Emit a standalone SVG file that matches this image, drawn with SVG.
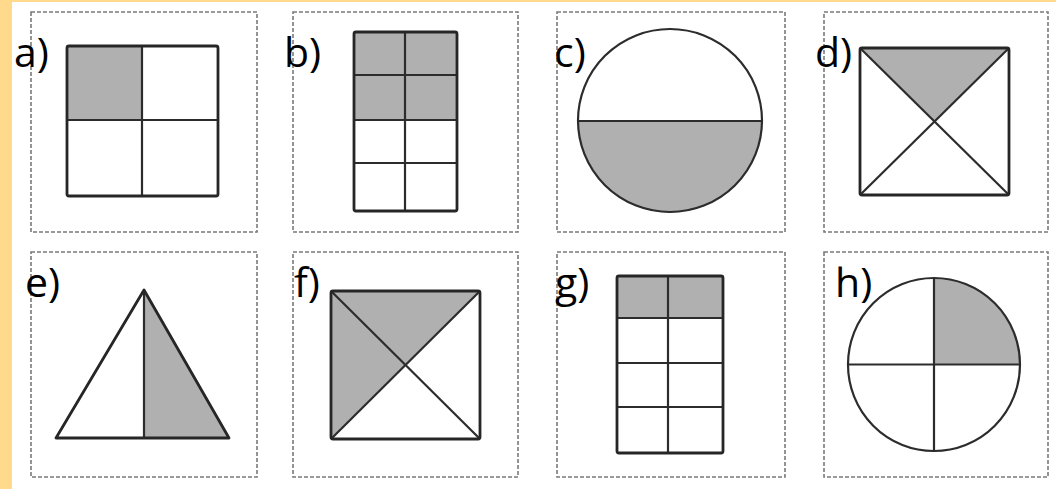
<svg xmlns="http://www.w3.org/2000/svg" width="1056" height="489" viewBox="0 0 1056 489">
<style>
.panel{fill:#fff;stroke:#7a7a7a;stroke-width:1.6;stroke-dasharray:4 2}
.sh{fill:#b0b0b0}
.out{fill:none;stroke:#262626;stroke-width:2.8;stroke-linejoin:round}
.in{fill:none;stroke:#2c2c2c;stroke-width:2.2}
.lbl{font-family:"Open Sans","Noto Sans",sans-serif;font-size:41px;fill:#000}
</style>
<rect x="0" y="0" width="1056" height="489" fill="#fff"/>
<rect x="0" y="0" width="1056" height="2" fill="#ffd98c"/>
<rect x="0" y="0" width="12" height="489" fill="#ffd98c"/>

<g id="panel-a">
<rect class="panel" x="31" y="12" width="226" height="220"/>
<rect class="sh" x="67" y="46" width="75" height="74"/>
<line class="in" x1="142" y1="46" x2="142" y2="196"/>
<line class="in" x1="67" y1="120" x2="218" y2="120"/>
<rect class="out" x="67" y="46" width="151" height="150" rx="2"/>
<text class="lbl" x="14" y="67">a)</text>
</g>

<g id="panel-b">
<rect class="panel" x="293" y="12" width="225" height="220"/>
<rect class="sh" x="354" y="32" width="103" height="88"/>
<line class="in" x1="405" y1="32" x2="405" y2="211"/>
<line class="in" x1="354" y1="75" x2="457" y2="75"/>
<line class="in" x1="354" y1="120" x2="457" y2="120"/>
<line class="in" x1="354" y1="163" x2="457" y2="163"/>
<rect class="out" x="354" y="32" width="103" height="179" rx="2"/>
<text class="lbl" x="284" y="67">b)</text>
</g>

<g id="panel-c">
<rect class="panel" x="557" y="12" width="228" height="220"/>
<path class="sh" d="M578 121 A92 91.5 0 0 0 762 121 Z"/>
<line class="in" x1="578" y1="121" x2="762" y2="121"/>
<ellipse class="in" cx="670" cy="120.5" rx="92" ry="91.5"/>
<text class="lbl" x="554" y="67">c)</text>
</g>

<g id="panel-d">
<rect class="panel" x="824" y="12" width="224" height="220"/>
<polygon class="sh" points="860,48 1009,48 934.5,121.5"/>
<line class="in" x1="860" y1="48" x2="1009" y2="195"/>
<line class="in" x1="1009" y1="48" x2="860" y2="195"/>
<rect class="out" x="860" y="48" width="149" height="147" rx="2"/>
<text class="lbl" x="815" y="67">d)</text>
</g>

<g id="panel-e">
<rect class="panel" x="31" y="252" width="226" height="225"/>
<polygon class="sh" points="144,290 229,438 144,438"/>
<line class="in" x1="144" y1="290" x2="144" y2="438"/>
<polygon class="out" points="144,290 229,438 56,438"/>
<text class="lbl" x="25" y="297">e)</text>
</g>

<g id="panel-f">
<rect class="panel" x="293" y="252" width="225" height="225"/>
<polygon class="sh" points="331,291 480,291 405.5,365 331,439"/>
<line class="in" x1="331" y1="291" x2="480" y2="439"/>
<line class="in" x1="480" y1="291" x2="331" y2="439"/>
<rect class="out" x="331" y="291" width="149" height="148" rx="2"/>
<text class="lbl" x="294" y="297">f)</text>
</g>

<g id="panel-g">
<rect class="panel" x="557" y="252" width="228" height="225"/>
<rect class="sh" x="617" y="276" width="106" height="42"/>
<line class="in" x1="668" y1="276" x2="668" y2="453"/>
<line class="in" x1="617" y1="318" x2="723" y2="318"/>
<line class="in" x1="617" y1="363" x2="723" y2="363"/>
<line class="in" x1="617" y1="407" x2="723" y2="407"/>
<rect class="out" x="617" y="276" width="106" height="177" rx="2"/>
<text class="lbl" x="555" y="297">g)</text>
</g>

<g id="panel-h">
<rect class="panel" x="824" y="252" width="224" height="225"/>
<path class="sh" d="M934 364.5 L934 278 A86 86.5 0 0 1 1020 364.5 Z"/>
<line class="in" x1="934" y1="278" x2="934" y2="451"/>
<line class="in" x1="848" y1="364.5" x2="1020" y2="364.5"/>
<ellipse class="in" cx="934" cy="364.5" rx="86" ry="86.5"/>
<text class="lbl" x="835" y="297">h)</text>
</g>
</svg>
